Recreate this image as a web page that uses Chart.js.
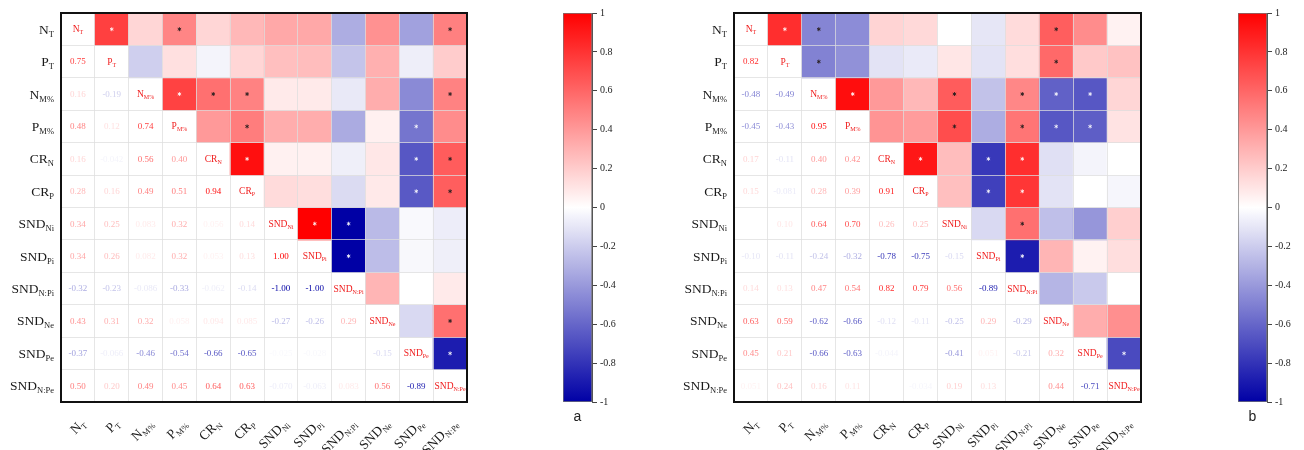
<!DOCTYPE html>
<html>
<head>
<meta charset="utf-8">
<script src="https://cdn.jsdelivr.net/npm/chart.js@4.4.1/dist/chart.umd.min.js"></script>
<style>
  html, body { margin: 0; padding: 0; background: #fff; }
  #wrap { position: relative; width: 1304px; height: 450px; overflow: hidden; }
  canvas { position: absolute; top: 0; }
</style>
</head>
<body>
<div id="wrap">
  <canvas id="matA" width="520" height="450" style="left:0px"></canvas>
  <canvas id="barA" width="90" height="450" style="left:540px"></canvas>
  <canvas id="matB" width="520" height="450" style="left:680px"></canvas>
  <canvas id="barB" width="89" height="450" style="left:1215px"></canvas>
</div>
<script>
// Variable names: main symbol and subscript
const labelMain = ['N', 'P', 'N', 'P', 'CR', 'CR', 'SND', 'SND', 'SND', 'SND', 'SND', 'SND'];
const labelSub  = ['T', 'T', 'M%', 'M%', 'N', 'P', 'Ni', 'Pi', 'N:Pi', 'Ne', 'Pe', 'N:Pe'];

// Pearson r, lower triangle (row i holds r with columns 0..i-1)
const corrA = [
  [],
  [0.75],
  [0.16, -0.19],
  [0.48, 0.12, 0.74],
  [0.16, -0.042, 0.56, 0.40],
  [0.28, 0.16, 0.49, 0.51, 0.94],
  [0.34, 0.25, 0.083, 0.32, 0.056, 0.14],
  [0.34, 0.26, 0.082, 0.32, 0.053, 0.13, 1.00],
  [-0.32, -0.23, -0.086, -0.33, -0.062, -0.14, -1.00, -1.00],
  [0.43, 0.31, 0.32, 0.058, 0.094, 0.085, -0.27, -0.26, 0.29],
  [-0.37, -0.066, -0.46, -0.54, -0.66, -0.65, -0.025, -0.028, 0, -0.15],
  [0.50, 0.20, 0.49, 0.45, 0.64, 0.63, -0.070, -0.063, 0.083, 0.56, -0.89]
];

const corrB = [
  [],
  [0.82],
  [-0.48, -0.49],
  [-0.45, -0.43, 0.95],
  [0.17, -0.11, 0.40, 0.42],
  [0.15, -0.081, 0.28, 0.39, 0.91],
  [0, 0.10, 0.64, 0.70, 0.26, 0.25],
  [-0.10, -0.11, -0.24, -0.32, -0.78, -0.75, -0.15],
  [0.14, 0.13, 0.47, 0.54, 0.82, 0.79, 0.56, -0.89],
  [0.63, 0.59, -0.62, -0.66, -0.12, -0.11, -0.25, 0.29, -0.29],
  [0.45, 0.21, -0.66, -0.63, -0.044, 0, -0.41, 0.051, -0.21, 0.32],
  [0.051, 0.24, 0.16, 0.11, 0, -0.034, 0.19, 0.13, 0, 0.44, -0.71]
];

// Critical |r| for p < 0.05 (marked with an asterisk)
const SIG_R = 0.468;

// Colour bar ticks
const barTicks = [-1, -0.8, -0.6, -0.4, -0.2, 0, 0.2, 0.4, 0.6, 0.8, 1];

const SERIF = '"Liberation Serif", "Times New Roman", serif';
const N = labelMain.length;

function cmap(v) {
  const t = Math.max(-1, Math.min(1, v));
  let r, g, b;
  if (t >= 0) {
    r = 255; g = Math.round(255 * (1 - t)); b = g;
  } else {
    const s = -t;
    r = Math.round(255 * (1 - s)); g = r; b = Math.round(255 - 90 * s);
  }
  return `rgb(${r},${g},${b})`;
}

function fullMatrix(lower) {
  const m = [];
  for (let i = 0; i < N; i++) {
    m.push([]);
    for (let j = 0; j < N; j++) {
      if (i === j) m[i].push(1);
      else if (j < i) m[i].push(lower[i][j]);
      else m[i].push(lower[j][i]);
    }
  }
  return m;
}

function fmt(v) {
  return Math.abs(v) >= 0.1 ? v.toFixed(2) : v.toPrecision(2);
}

function drawSub(ctx, main, sub, x, y, mSize, sSize, drop, align, color) {
  ctx.fillStyle = color;
  ctx.textBaseline = 'alphabetic';
  ctx.textAlign = 'left';
  ctx.font = `${mSize}px ${SERIF}`;
  const wm = ctx.measureText(main).width;
  ctx.font = `${sSize}px ${SERIF}`;
  const ws = ctx.measureText(sub).width;
  let x0 = x;
  if (align === 'right') x0 = x - wm - ws;
  else if (align === 'center') x0 = x - (wm + ws) / 2;
  ctx.font = `${mSize}px ${SERIF}`;
  ctx.fillText(main, x0, y);
  ctx.font = `${sSize}px ${SERIF}`;
  ctx.fillText(sub, x0 + wm, y + drop);
}

function drawStar(ctx, x, y, color) {
  ctx.save();
  ctx.strokeStyle = color;
  ctx.lineWidth = 1;
  ctx.beginPath();
  for (let k = 0; k < 3; k++) {
    const a = Math.PI / 2 + k * Math.PI / 3;
    ctx.moveTo(x - 2 * Math.cos(a), y - 2 * Math.sin(a));
    ctx.lineTo(x + 2 * Math.cos(a), y + 2 * Math.sin(a));
  }
  ctx.stroke();
  ctx.restore();
}

const matrixDecor = {
  id: 'matrixDecor',
  afterDraw(chart) {
    const ctx = chart.ctx;
    const m = chart.options.plugins.matrixDecor.matrix;
    const xs = chart.scales.x, ys = chart.scales.y;
    const area = chart.chartArea;
    ctx.save();
    for (let i = 0; i < N; i++) {
      const cy = ys.getPixelForValue(N - i - 0.5);
      for (let j = 0; j < N; j++) {
        const cx = xs.getPixelForValue(j);
        const v = m[i][j];
        if (j < i) {
          ctx.font = `9px ${SERIF}`;
          ctx.textAlign = 'center';
          ctx.textBaseline = 'middle';
          ctx.fillStyle = cmap(v);
          ctx.fillText(fmt(v), cx, cy + 0.5);
        } else if (j === i) {
          drawSub(ctx, labelMain[i], labelSub[i], cx, cy + 3, 9.5, 6, 2, 'center', '#f01c1c');
        } else if (Math.abs(v) >= SIG_R) {
          const light = v > 0.72 || v < -0.5;
          drawStar(ctx, cx, cy, light ? 'rgba(255,255,255,0.8)' : 'rgba(40,30,30,0.9)');
        }
      }
      // row labels
      drawSub(ctx, labelMain[i], labelSub[i], area.left - 7, cy + 4.5, 13.5, 8.5, 3, 'right', '#1a1a1a');
    }
    // column labels, rotated
    for (let j = 0; j < N; j++) {
      const cx = xs.getPixelForValue(j);
      ctx.save();
      ctx.translate(cx + 5, area.bottom + 19);
      ctx.rotate(-Math.PI / 4);
      drawSub(ctx, labelMain[j], labelSub[j], 0, 4.5, 13.5, 8.5, 3, 'right', '#1a1a1a');
      ctx.restore();
    }
    // frame
    ctx.strokeStyle = '#111';
    ctx.lineWidth = 2;
    ctx.strokeRect(area.left, area.top, area.right - area.left, area.bottom - area.top);
    ctx.restore();
  }
};

function makeMatrix(id, lower, padLeft, padRight) {
  const m = fullMatrix(lower);
  const cats = labelMain.map((s, j) => s + labelSub[j]);
  const datasets = [];
  for (let i = 0; i < N; i++) {
    datasets.push({
      data: cats.map(() => [N - i - 1, N - i]),
      backgroundColor: cats.map((_, j) => (j > i ? cmap(m[i][j]) : '#ffffff')),
      borderWidth: 0,
      barPercentage: 1,
      categoryPercentage: 1,
      grouped: false
    });
  }
  return new Chart(document.getElementById(id), {
    type: 'bar',
    data: { labels: cats, datasets },
    options: {
      responsive: false,
      animation: false,
      devicePixelRatio: 1,
      layout: { padding: { left: padLeft, right: padRight, top: 13, bottom: 48 } },
      plugins: {
        legend: { display: false },
        tooltip: { enabled: false },
        matrixDecor: { matrix: m }
      },
      scales: {
        x: {
          type: 'category', offset: true,
          grid: { offset: true, color: 'rgba(222,222,222,0.75)', drawTicks: false, z: 1 },
          ticks: { display: false },
          border: { display: false },
          afterFit(s) { s.height = 0; }
        },
        y: {
          type: 'linear', min: 0, max: N,
          grid: { color: 'rgba(222,222,222,0.75)', drawTicks: false, z: 1 },
          ticks: { display: false, stepSize: 1 },
          border: { display: false },
          afterFit(s) { s.width = 0; }
        }
      }
    },
    plugins: [matrixDecor]
  });
}

function makeColorBar(id, letter, padLeft, axisWidth) {
  return new Chart(document.getElementById(id), {
    type: 'bar',
    data: {
      labels: [letter],
      datasets: [{
        data: [[barTicks[0], barTicks[barTicks.length - 1]]],
        backgroundColor(c) {
          const chart = c.chart;
          const ys = chart.scales.y;
          if (!chart.chartArea || !ys) return '#fff';
          const g = chart.ctx.createLinearGradient(0, ys.getPixelForValue(-1), 0, ys.getPixelForValue(1));
          for (let k = 0; k <= 40; k++) {
            const v = -1 + k / 20;
            g.addColorStop(k / 40, cmap(v));
          }
          return g;
        },
        borderColor: '#777',
        borderWidth: 1,
        borderSkipped: false,
        barPercentage: 1,
        categoryPercentage: 1
      }]
    },
    options: {
      responsive: false,
      animation: false,
      devicePixelRatio: 1,
      layout: { padding: { left: padLeft, right: 0, top: 13, bottom: 18 } },
      plugins: { legend: { display: false }, tooltip: { enabled: false } },
      scales: {
        x: {
          grid: { display: false },
          border: { display: false },
          ticks: { font: { family: '"Liberation Sans", Arial, sans-serif', size: 14 }, color: '#222', padding: -1 },
          afterFit(s) { s.height = 30; }
        },
        y: {
          position: 'right', min: -1, max: 1,
          afterBuildTicks(s) { s.ticks = barTicks.map(v => ({ value: v })); },
          ticks: {
            font: { family: SERIF, size: 10 }, color: '#222', padding: 3,
            callback: v => String(Math.round(v * 10) / 10)
          },
          grid: { drawOnChartArea: false, drawTicks: true, tickLength: 5, color: '#444' },
          border: { display: true, color: '#555' },
          afterFit(s) { s.width = axisWidth; }
        }
      }
    }
  });
}

makeMatrix('matA', corrA, 61, 53);
makeColorBar('barA', 'a', 23, 38);
makeMatrix('matB', corrB, 54, 59);
makeColorBar('barB', 'b', 23, 37);
</script>
</body>
</html>
